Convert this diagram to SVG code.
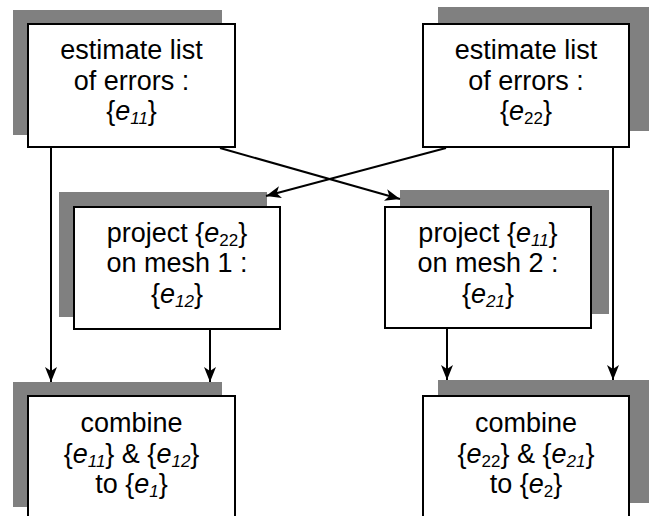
<svg xmlns="http://www.w3.org/2000/svg" width="649" height="516" viewBox="0 0 649 516">
  <style>
    .shadow { fill: #808080; }
    .box { fill: #ffffff; stroke: #000000; stroke-width: 2; }
    .label { font-family: "Liberation Sans", Arial, sans-serif; font-size: 27px; fill: #000000; text-anchor: middle; }
    .it { font-style: italic; }
    .sub { font-size: 17px; }
    .edge { fill: none; stroke: #000000; stroke-width: 2; marker-end: url(#arrow); }
  </style>
  <defs>
    <marker id="arrow" markerUnits="userSpaceOnUse" markerWidth="16" markerHeight="12" refX="15" refY="6" orient="auto">
      <path d="M0,0 L15,6 L0,12 L4,6 Z" fill="#000000"/>
    </marker>
  </defs>
  <rect width="649" height="516" fill="#ffffff"/>

  <!-- estimate on mesh 1 -->
  <g id="estimate1">
    <rect class="shadow" x="13" y="10" width="209" height="125"/>
    <rect class="box" x="28" y="24" width="207" height="123"/>
    <text class="label" x="131.5" y="59">estimate list</text>
    <text class="label" x="131.5" y="90">of errors :</text>
    <text class="label" x="131.5" y="120">{<tspan class="it">e</tspan><tspan class="sub it" dy="4">11</tspan><tspan dy="-4">}</tspan></text>
  </g>

  <!-- estimate on mesh 2 -->
  <g id="estimate2">
    <rect class="shadow" x="438" y="7" width="211" height="124"/>
    <rect class="box" x="423" y="24" width="206" height="123"/>
    <text class="label" x="526" y="59">estimate list</text>
    <text class="label" x="526" y="90">of errors :</text>
    <text class="label" x="526" y="120">{<tspan class="it">e</tspan><tspan class="sub" dy="4">22</tspan><tspan dy="-4">}</tspan></text>
  </g>

  <!-- projection onto mesh 1 -->
  <g id="project1">
    <rect class="shadow" x="59" y="192" width="208" height="125"/>
    <rect class="box" x="74" y="207" width="206" height="122"/>
    <text class="label" x="177" y="242">project {<tspan class="it">e</tspan><tspan class="sub" dy="4">22</tspan><tspan dy="-4">}</tspan></text>
    <text class="label" x="177" y="272">on mesh 1 :</text>
    <text class="label" x="177" y="303">{<tspan class="it">e</tspan><tspan class="sub it" dy="4">12</tspan><tspan dy="-4">}</tspan></text>
  </g>

  <!-- projection onto mesh 2 -->
  <g id="project2">
    <rect class="shadow" x="400" y="190" width="209" height="124"/>
    <rect class="box" x="385" y="207" width="206" height="121"/>
    <text class="label" x="488" y="242">project {<tspan class="it">e</tspan><tspan class="sub it" dy="4">11</tspan><tspan dy="-4">}</tspan></text>
    <text class="label" x="488" y="272">on mesh 2 :</text>
    <text class="label" x="488" y="303">{<tspan class="it">e</tspan><tspan class="sub it" dy="4">21</tspan><tspan dy="-4">}</tspan></text>
  </g>

  <!-- combination on mesh 1 -->
  <g id="combine1">
    <rect class="shadow" x="13" y="382" width="209" height="125"/>
    <rect class="box" x="28" y="396" width="207" height="130"/>
    <text class="label" x="131.5" y="432">combine</text>
    <text class="label" x="131.5" y="463">{<tspan class="it">e</tspan><tspan class="sub it" dy="4">11</tspan><tspan dy="-4">} &amp; {</tspan><tspan class="it">e</tspan><tspan class="sub it" dy="4">12</tspan><tspan dy="-4">}</tspan></text>
    <text class="label" x="131.5" y="493">to {<tspan class="it">e</tspan><tspan class="sub it" dy="4">1</tspan><tspan dy="-4">}</tspan></text>
  </g>

  <!-- combination on mesh 2 -->
  <g id="combine2">
    <rect class="shadow" x="438" y="380" width="211" height="123"/>
    <rect class="box" x="423" y="396" width="206" height="130"/>
    <text class="label" x="526" y="432">combine</text>
    <text class="label" x="526" y="463">{<tspan class="it">e</tspan><tspan class="sub" dy="4">22</tspan><tspan dy="-4">} &amp; {</tspan><tspan class="it">e</tspan><tspan class="sub it" dy="4">21</tspan><tspan dy="-4">}</tspan></text>
    <text class="label" x="526" y="493">to {<tspan class="it">e</tspan><tspan class="sub" dy="4">2</tspan><tspan dy="-4">}</tspan></text>
  </g>

  <!-- connectors -->
  <g id="connectors">
    <line class="edge" x1="51" y1="148" x2="51" y2="382"/>
    <line class="edge" x1="220" y1="148" x2="400" y2="199"/>
    <line class="edge" x1="446" y1="148" x2="266" y2="196"/>
    <line class="edge" x1="613" y1="148" x2="613" y2="380"/>
    <line class="edge" x1="210" y1="330" x2="210" y2="382"/>
    <line class="edge" x1="447" y1="329" x2="447" y2="380"/>
  </g>
</svg>
